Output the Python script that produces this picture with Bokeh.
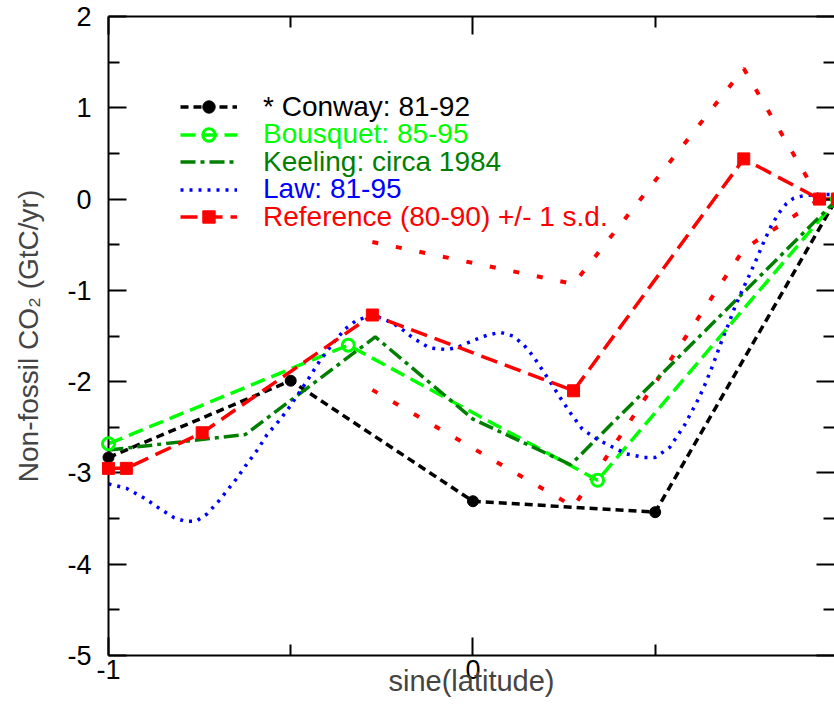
from bokeh.plotting import figure
from bokeh.models import (Range1d, FixedTicker, LinearAxis, Legend, LegendItem,
                          CustomJSTickFormatter)
from bokeh.embed import file_html
from bokeh.resources import INLINE

FONT = "Liberation Sans"

# ---- data ----
conway_x = [-1.0, -0.5, 0.0, 0.5, 1.0]
conway_y = [-2.83, -1.99, -3.31, -3.43, 0.02]

bousquet_x = [-1.0, -0.342, 0.342, 1.0]
bousquet_y = [-2.68, -1.60, -3.08, 0.0]

keeling_x = [-1.0, -0.625, -0.268, 0.0, 0.268, 1.0]
keeling_y = [-2.75, -2.58, -1.51, -2.41, -2.91, 0.0]

law_x = [-1.0, -0.95, -0.90, -0.86, -0.82, -0.79, -0.76, -0.73, -0.70, -0.68,
         -0.65, -0.62, -0.59, -0.565, -0.53, -0.50, -0.475, -0.45, -0.42, -0.38,
         -0.35, -0.32, -0.29, -0.26, -0.22, -0.19, -0.165, -0.12, -0.07, -0.04,
         0.0, 0.04, 0.075, 0.11, 0.14, 0.165, 0.19, 0.21, 0.24, 0.267,
         0.30, 0.34, 0.38, 0.42, 0.47, 0.50, 0.54, 0.58, 0.62, 0.64,
         0.66, 0.68, 0.70, 0.72, 0.74, 0.76, 0.78, 0.80, 0.82, 0.84,
         0.86, 0.88, 0.91, 0.95, 1.0]
law_y = [-3.12, -3.17, -3.28, -3.39, -3.49, -3.53, -3.53, -3.45, -3.32, -3.22,
         -3.07, -2.90, -2.74, -2.58, -2.42, -2.26, -2.11, -1.96, -1.77, -1.56,
         -1.42, -1.33, -1.29, -1.29, -1.36, -1.44, -1.52, -1.63, -1.65, -1.62,
         -1.55, -1.49, -1.46, -1.50, -1.60, -1.72, -1.87, -1.99, -2.18, -2.34,
         -2.52, -2.63, -2.71, -2.79, -2.83, -2.83, -2.72, -2.48, -2.18, -2.00,
         -1.80, -1.58, -1.38, -1.17, -0.99, -0.82, -0.64, -0.45, -0.28, -0.15,
         -0.05, 0.01, 0.04, 0.05, 0.05]

ref_x = [-1.0, -0.951, -0.743, -0.276, 0.276, 0.743, 0.951, 1.0]
ref_y = [-2.95, -2.95, -2.56, -1.27, -2.10, 0.44, 0.0, 0.0]

sd_x = [-0.276, 0.276, 0.743, 0.951]
sd_upper = [-0.47, -0.93, 1.43, 0.0]
sd_lower = [-2.09, -3.37, -0.55, 0.0]

x_ticks = [-1, 0, 1]
x_minor = [-0.5, 0.5]
y_ticks = [-5, -4, -3, -2, -1, 0, 1, 2]
y_minor = [-4.5, -3.5, -2.5, -1.5, -0.5, 0.5, 1.5]

x_title = "sine(latitude)"
y_title = "Non-fossil CO\u2082 (GtC/yr)"
labels = ["* Conway: 81-92", "Bousquet: 85-95", "Keeling: circa 1984",
          "Law: 81-95", "Reference (80-90) +/- 1 s.d."]
colors = ["black", "#00ff00", "#007f00", "#0000ff", "#ff0000"]

# ---- figure ----
W, H = 834, 706
BL, BT, BB = 108, 16, 51
p = figure(width=W, height=H, x_range=Range1d(-1, 0.992), y_range=Range1d(-5, 2),
           output_backend="svg", toolbar_location=None,
           min_border_left=BL, min_border_right=0, min_border_top=BT, min_border_bottom=BB)
p.grid.visible = False
p.outline_line_color = None
p.background_fill_color = "white"
p.border_fill_color = "white"

plain = CustomJSTickFormatter(code="return tick.toString();")
blank = CustomJSTickFormatter(code="return '';")

def style_axis(ax, show_labels):
    ax.axis_line_color = "black"
    ax.axis_line_width = 2
    ax.major_tick_in = 18
    ax.major_tick_out = 0
    ax.minor_tick_in = 11
    ax.minor_tick_out = 0
    ax.major_tick_line_color = "black"
    ax.minor_tick_line_color = "black"
    ax.major_tick_line_width = 2
    ax.minor_tick_line_width = 2
    ax.major_label_text_font = FONT
    ax.major_label_text_color = "black"
    ax.major_label_text_font_size = "27px"
    if show_labels:
        ax.formatter = plain
    else:
        ax.formatter = blank
        ax.major_label_standoff = 0

xa = p.xaxis[0]
xa.ticker = FixedTicker(ticks=x_ticks, minor_ticks=x_minor)
style_axis(xa, True)
xa.major_label_standoff = 4
xa.axis_label = x_title
xa.axis_label_text_font = FONT
xa.axis_label_text_font_size = "29px"
xa.axis_label_text_font_style = "normal"
xa.axis_label_standoff = -17

ya = p.yaxis[0]
ya.ticker = FixedTicker(ticks=y_ticks, minor_ticks=y_minor)
style_axis(ya, True)
ya.major_label_standoff = 17
ya.axis_label = y_title
ya.axis_label_text_font = FONT
ya.axis_label_text_font_size = "28px"
ya.axis_label_text_font_style = "normal"
ya.axis_label_standoff = 20

top = LinearAxis(ticker=FixedTicker(ticks=x_ticks, minor_ticks=x_minor))
style_axis(top, False)
p.add_layout(top, "above")
right = LinearAxis(ticker=FixedTicker(ticks=y_ticks, minor_ticks=y_minor))
style_axis(right, False)
right.axis_line_color = None
p.add_layout(right, "right")

# ---- series ----
r_sd1 = p.line(sd_x, sd_upper, line_color="#ff0000", line_width=4, line_dash="6 18")
r_sd2 = p.line(sd_x, sd_lower, line_color="#ff0000", line_width=4, line_dash="6 18")

c_line = p.line(conway_x, conway_y, line_color="black", line_width=3.5, line_dash="8 5")
c_pts = p.scatter(conway_x, conway_y, marker="circle", size=11, fill_color="black",
                  line_color="black", level="overlay")

b_line = p.line(bousquet_x, bousquet_y, line_color="#00ff00", line_width=3.5, line_dash="15 7")
b_pts = p.scatter(bousquet_x, bousquet_y, marker="circle", size=12, fill_color=None,
                  line_color="#00ff00", line_width=3, level="overlay")

k_line = p.line(keeling_x, keeling_y, line_color="#007f00", line_width=3.5,
                line_dash="15 5 4 5")

l_line = p.line(law_x, law_y, line_color="#0000ff", line_width=3.5, line_dash="3 6")

r_line = p.line(ref_x, ref_y, line_color="#ff0000", line_width=3.5, line_dash="17 8")
r_pts = p.scatter(ref_x, ref_y, marker="square", size=12, fill_color="#ff0000",
                  line_color="#ff0000", level="overlay")

# ---- legend: one Legend per entry so each label gets its own colour ----
renderer_sets = [[c_line, c_pts], [b_line, b_pts], [k_line], [l_line], [r_line, r_pts]]
frame_bottom_page = H - BB
frame_left_page = BL
row_h = 31
for i, (lab, col, rs) in enumerate(zip(labels, colors, renderer_sets)):
    center_page = 107.3 + 27.5 * i
    y_off = frame_bottom_page - (center_page + row_h / 2)
    leg = Legend(items=[LegendItem(label=lab, renderers=rs)],
                 location=(180 - frame_left_page, y_off))
    leg.glyph_width = 57
    leg.glyph_height = row_h
    leg.label_height = row_h
    leg.label_standoff = 26
    leg.padding = 0
    leg.margin = 0
    leg.spacing = 0
    leg.border_line_color = None
    leg.background_fill_alpha = 0
    leg.label_text_font = FONT
    leg.label_text_font_size = "28px"
    leg.label_text_color = col
    leg.label_text_baseline = "alphabetic"
    p.add_layout(leg)

open("out.html", "w").write(file_html(p, INLINE))
